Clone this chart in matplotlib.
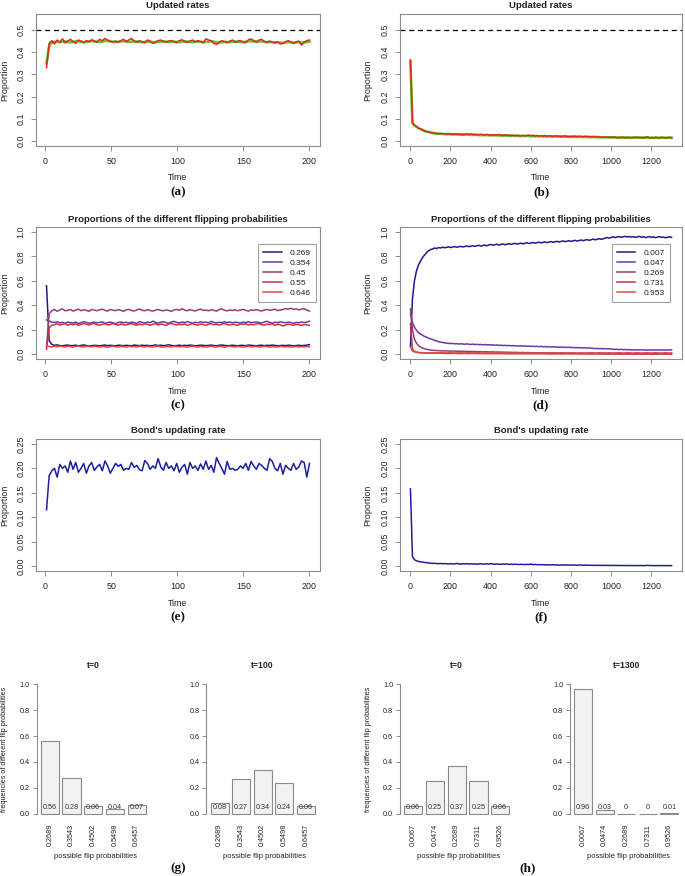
import numpy as np
import matplotlib
matplotlib.use("Agg")
import matplotlib.pyplot as plt
from matplotlib.lines import Line2D

plt.rcParams['font.family'] = ['Liberation Sans', 'DejaVu Sans']

# ---------------- data ----------------
# (a) updated rates, 200 steps (sampled every ~2 steps), thousandths
rate_a_red = [330, 440, 452, 438, 455, 445, 460, 442, 450, 458,
              447, 440, 455, 450, 443, 452, 448, 456, 450, 445,
              458, 452, 462, 455, 448, 446, 450, 445, 452, 458,
              448, 455, 462, 450, 445, 452, 447, 442, 455, 450,
              440, 447, 452, 455, 448, 446, 450, 453, 447, 443,
              452, 456, 449, 444, 450, 455, 446, 452, 448, 443,
              460, 455, 452, 440, 435, 446, 452, 447, 443, 450,
              455, 445, 449, 453, 446, 443, 456, 460, 452, 447,
              455, 458, 448, 444, 450, 446, 442, 447, 437, 440,
              447, 452, 445, 440, 447, 450, 432, 445, 452, 455]
rate_a_green = [350, 430, 443, 446, 448, 445, 447, 449, 446, 444,
                447, 449, 450, 447, 445, 446, 448, 450, 449, 447,
                446, 448, 450, 451, 449, 447, 446, 447, 449, 450,
                448, 446, 447, 449, 448, 446, 445, 446, 448, 447,
                445, 444, 446, 448, 449, 447, 446, 447, 448, 446,
                445, 447, 449, 448, 446, 445, 447, 448, 447, 445,
                446, 448, 449, 447, 444, 443, 445, 447, 446, 445,
                447, 448, 447, 446, 445, 447, 449, 450, 448, 447,
                448, 449, 447, 445, 446, 445, 444, 445, 443, 442,
                444, 446, 445, 443, 444, 446, 443, 444, 446, 447]

# (b) updated rates, 1300 steps (sampled every ~10 steps), thousandths
rate_b_red = [365, 85, 72, 66, 58, 55, 50, 46, 43, 41,
              39, 37, 36, 34, 33, 35, 32, 33, 31, 34,
              32, 30, 33, 31, 30, 32, 29, 31, 33, 30,
              32, 31, 29, 30, 28, 31, 29, 27, 30, 28,
              27, 29, 26, 28, 30, 27, 25, 28, 26, 27,
              25, 27, 24, 26, 25, 23, 26, 24, 25, 27,
              24, 26, 23, 25, 22, 24, 23, 25, 22, 24,
              23, 21, 24, 22, 23, 21, 22, 24, 21, 20,
              22, 21, 23, 20, 22, 21, 19, 22, 20, 21,
              19, 21, 20, 18, 19, 17, 19, 18, 17, 18,
              16, 18, 17, 15, 17, 16, 18, 15, 17, 16,
              15, 17, 16, 18, 15, 16, 14, 17, 19, 15,
              16, 15, 17, 16, 15, 17, 16, 15, 16, 17,
              16]
rate_b_green = [360, 80, 70, 64, 58, 54, 50, 46, 43, 41,
                39, 37, 35, 34, 33, 33, 32, 32, 31, 31,
                31, 30, 30, 30, 30, 29, 29, 29, 29, 29,
                28, 28, 28, 28, 27, 27, 27, 27, 27, 26,
                26, 26, 26, 26, 25, 25, 25, 25, 25, 24,
                24, 24, 24, 24, 23, 23, 23, 23, 23, 23,
                22, 22, 22, 22, 22, 22, 21, 21, 21, 21,
                21, 21, 21, 20, 20, 20, 20, 20, 20, 20,
                19, 19, 19, 19, 19, 19, 19, 19, 18, 18,
                18, 18, 18, 18, 18, 17, 17, 17, 17, 17,
                17, 17, 17, 16, 16, 16, 16, 16, 16, 16,
                16, 16, 16, 16, 16, 16, 16, 16, 16, 15,
                15, 15, 15, 15, 15, 15, 15, 15, 15, 15,
                15]

# (c) proportions of flipping probabilities, 200 steps, thousandths
c_labels = ['0.269', '0.354', '0.45', '0.55', '0.646']
c_p1 = [560, 110, 80, 72, 75, 70, 68, 72, 74, 69,
        70, 73, 68, 71, 75, 70, 66, 69, 72, 70,
        68, 71, 74, 69, 72, 70, 67, 73, 71, 69,
        72, 70, 68, 74, 71, 69, 73, 70, 72, 68,
        71, 75, 70, 73, 69, 72, 76, 71, 68, 70,
        73, 69, 72, 70, 74, 71, 68, 70, 73, 72,
        69, 71, 74, 70, 68, 72, 75, 71, 69, 70,
        73, 70, 68, 72, 71, 69, 74, 72, 70, 68,
        71, 73, 69, 72, 70, 74, 71, 68, 70, 72,
        69, 73, 71, 68, 70, 72, 69, 71, 73, 78]
c_p2 = [280, 270, 262, 258, 265, 255, 260, 252, 262, 258,
        255, 262, 250, 258, 265, 260, 253, 257, 262, 255,
        260, 264, 252, 258, 262, 256, 250, 259, 263, 257,
        260, 254, 262, 258, 251, 266, 259, 255, 262, 257,
        270, 260, 254, 261, 265, 258, 252, 263, 268, 259,
        255, 262, 258, 266, 260, 253, 261, 257, 264, 259,
        262, 256, 268, 260, 254, 261, 257, 265, 258, 263,
        256, 261, 259, 254, 262, 258, 265, 257, 260, 263,
        258, 255, 262, 268, 259, 253, 261, 257, 264, 260,
        255, 262, 258, 252, 260, 256, 263, 258, 261, 270]
c_p3 = [60, 330, 355, 365, 350, 362, 370, 355, 358, 365,
        352, 360, 368, 355, 362, 358, 350, 365, 360, 355,
        362, 368, 358, 352, 365, 360, 356, 364, 358, 350,
        362, 366, 357, 353, 361, 369, 358, 355, 363, 357,
        352, 360, 365, 358, 354, 362, 357, 350, 361, 366,
        358, 372, 360, 355, 363, 358, 353, 362, 368, 357,
        360, 355, 362, 358, 351, 365, 370, 359, 354, 361,
        357, 363, 355, 360, 366, 358, 352, 362, 358, 364,
        357, 353, 360, 366, 358, 362, 368, 356, 361, 365,
        372, 368, 375, 366, 370, 362, 368, 372, 360, 352]
c_p4 = [40, 215, 235, 240, 248, 238, 244, 250, 236, 245,
        240, 248, 235, 242, 250, 244, 238, 246, 252, 240,
        236, 245, 248, 239, 243, 250, 244, 236, 247, 241,
        238, 246, 250, 242, 237, 245, 240, 248, 243, 236,
        244, 250, 238, 246, 241, 235, 247, 252, 243, 239,
        245, 240, 248, 236, 244, 250, 241, 238, 246, 242,
        236, 245, 249, 240, 244, 237, 246, 251, 242, 238,
        245, 240, 236, 247, 243, 249, 238, 244, 240, 246,
        250, 241, 237, 245, 242, 248, 236, 244, 240, 230,
        238, 245, 241, 236, 244, 240, 236, 242, 238, 235]
c_p5 = [70, 62, 58, 65, 60, 66, 62, 58, 64, 61,
        57, 63, 66, 60, 58, 64, 62, 59, 65, 61,
        58, 63, 60, 56, 62, 65, 60, 58, 63, 61,
        57, 64, 60, 62, 58, 65, 61, 59, 63, 60,
        58, 62, 65, 60, 57, 63, 61, 58, 64, 62,
        59, 63, 60, 57, 62, 65, 61, 58, 63, 60,
        57, 62, 64, 60, 58, 63, 61, 56, 62, 65,
        60, 58, 63, 61, 57, 62, 64, 59, 61, 63,
        58, 60, 64, 61, 57, 62, 60, 58, 63, 61,
        59, 62, 57, 60, 63, 58, 61, 59, 62, 60]

# (d) proportions of flipping probabilities, 1300 steps, thousandths
d_labels = ['0.007', '0.047', '0.269', '0.731', '0.953']
d_p1 = [60, 450, 600, 680, 730, 760, 790, 810, 830, 845,
        855, 860, 868, 864, 872, 868, 875, 870, 873, 878,
        872, 876, 880, 874, 878, 882, 877, 880, 885, 879,
        883, 887, 881, 886, 890, 884, 888, 892, 886, 893,
        897, 891, 895, 899, 893, 897, 901, 895, 899, 903,
        898, 902, 906, 900, 904, 908, 902, 907, 911, 905,
        909, 913, 907, 912, 916, 910, 914, 918, 912, 917,
        921, 915, 919, 923, 917, 922, 926, 920, 924, 928,
        922, 927, 931, 925, 929, 934, 928, 933, 937, 931,
        936, 941, 935, 940, 945, 939, 944, 950, 954, 948,
        955, 960, 954, 958, 962, 956, 960, 964, 958, 962,
        957, 961, 955, 959, 963, 956, 960, 954, 958, 962,
        955, 959, 953, 957, 961, 955, 958, 952, 956, 960,
        955]
d_p2 = [330, 260, 220, 195, 175, 165, 155, 145, 138, 130,
        125, 120, 112, 108, 102, 98, 95, 92, 90, 88,
        86, 88, 84, 86, 82, 85, 83, 80, 84, 81,
        79, 82, 78, 80, 77, 79, 76, 78, 75, 77,
        74, 76, 72, 75, 71, 73, 70, 72, 69, 71,
        68, 70, 67, 69, 66, 68, 65, 67, 64, 66,
        63, 65, 62, 64, 61, 63, 60, 62, 59, 61,
        58, 60, 57, 59, 56, 58, 55, 57, 54, 56,
        53, 55, 52, 54, 51, 53, 50, 52, 49, 51,
        48, 47, 45, 47, 44, 46, 43, 45, 42, 44,
        41, 40, 38, 40, 37, 39, 36, 38, 35, 37,
        34, 36, 33, 35, 34, 36, 33, 35, 32, 34,
        33, 35, 32, 34, 33, 35, 32, 34, 33, 35,
        34]
d_p3 = [370, 200, 120, 90, 70, 58, 50, 44, 40, 36,
        33, 31, 30, 29, 28, 27, 27, 26, 26, 25,
        25, 25, 24, 24, 23, 23, 23, 22, 22, 22,
        21, 21, 21, 20, 20, 20, 19, 19, 19, 18,
        18, 18, 17, 17, 17, 16, 16, 16, 15, 15,
        15, 14, 14, 14, 13, 13, 13, 12, 12, 12,
        11, 11, 11, 10, 10, 10, 10, 9, 9, 9,
        9, 8, 8, 8, 8, 7, 7, 7, 7, 7,
        6, 6, 6, 6, 6, 6, 5, 5, 5, 5,
        5, 5, 5, 5, 4, 4, 4, 4, 4, 4,
        4, 4, 4, 4, 3, 3, 3, 3, 3, 3,
        3, 3, 3, 3, 3, 3, 3, 3, 3, 3,
        3, 3, 3, 3, 3, 3, 3, 3, 3, 3,
        3]
d_p4 = [250, 40, 22, 16, 13, 11, 10, 9, 9, 8,
        8, 8, 7, 7, 7, 7, 7, 6, 6, 6,
        6, 6, 6, 6, 5, 5, 5, 5, 5, 5,
        5, 5, 5, 5, 5, 4, 4, 4, 4, 4,
        4, 4, 4, 4, 4, 4, 4, 4, 3, 3,
        3, 3, 3, 3, 3, 3, 3, 3, 3, 3,
        3, 3, 3, 3, 3, 3, 3, 3, 2, 2,
        2, 2, 2, 2, 2, 2, 2, 2, 2, 2,
        2, 2, 2, 2, 2, 2, 2, 2, 2, 2,
        2, 2, 2, 2, 2, 2, 1, 1, 1, 1,
        1, 1, 1, 1, 1, 1, 1, 1, 1, 1,
        1, 1, 1, 1, 1, 1, 1, 1, 1, 1,
        1, 1, 1, 1, 1, 1, 1, 1, 1, 1,
        1]
d_p5 = [60, 25, 18, 15, 13, 12, 12, 11, 11, 11,
        10, 11, 10, 9, 10, 11, 10, 9, 10, 10,
        11, 10, 9, 10, 11, 10, 10, 9, 10, 11,
        10, 9, 10, 10, 11, 10, 9, 10, 11, 10,
        10, 9, 10, 11, 10, 9, 10, 10, 11, 10,
        9, 10, 11, 10, 10, 9, 10, 11, 10, 9,
        10, 10, 11, 10, 9, 10, 11, 10, 10, 9,
        10, 11, 10, 9, 10, 10, 11, 10, 9, 10,
        11, 10, 10, 9, 10, 11, 10, 9, 10, 10,
        11, 10, 9, 10, 11, 10, 10, 9, 10, 11,
        10, 9, 10, 10, 11, 10, 9, 10, 11, 10,
        10, 9, 10, 11, 10, 9, 10, 10, 11, 10,
        9, 10, 11, 10, 10, 9, 10, 11, 10, 9,
        10]

# (e) bond's updating rate, 200 steps, thousandths
bond_e = [115, 185, 195, 200, 182, 208, 200, 205, 192, 215,
          198, 212, 192, 200, 210, 190, 205, 212, 196, 203,
          208, 195, 215, 205, 190, 200, 210, 204, 208, 196,
          200, 198, 212, 202, 206, 197, 195, 216, 210, 198,
          205, 200, 220, 203, 196, 212, 200, 205, 195, 210,
          192, 202, 208, 188, 212, 200, 205, 196, 209, 198,
          215, 198, 206, 192, 222, 210, 200, 188, 214, 198,
          200, 196, 198, 205, 200, 210, 196, 214, 205, 198,
          210, 206, 200, 196, 220, 214, 200, 195, 210, 188,
          206, 200, 196, 210, 198, 203, 215, 212, 182, 210]

# (f) bond's updating rate, 1300 steps, ten-thousandths
bond_f = [1580, 200, 130, 110, 95, 90, 80, 75, 70, 65,
          60, 55, 58, 52, 50, 55, 48, 52, 47, 45,
          50, 44, 48, 55, 46, 42, 48, 45, 50, 43,
          47, 42, 45, 40, 44, 48, 41, 43, 46, 40,
          52, 42, 38, 44, 40, 36, 42, 38, 45, 35,
          38, 34, 40, 36, 32, 38, 34, 30, 36, 32,
          42, 30, 34, 28, 32, 27, 30, 25, 28, 26,
          24, 28, 22, 26, 20, 24, 22, 20, 25, 21,
          23, 19, 22, 18, 24, 20, 17, 21, 19, 16,
          18, 15, 19, 14, 17, 13, 16, 15, 12, 14,
          13, 15, 12, 14, 11, 13, 12, 10, 13, 11,
          12, 10, 11, 13, 10, 12, 9, 11, 15, 10,
          12, 9, 11, 10, 12, 9, 11, 10, 12, 9,
          10]

# (g), (h) bar charts
g_cats = ['0.2689', '0.3543', '0.4502', '0.5498', '0.6457']
g_t0 = [0.56, 0.28, 0.06, 0.04, 0.07]
g_t100 = [0.08, 0.27, 0.34, 0.24, 0.06]
h_cats = ['0.0067', '0.0474', '0.2689', '0.7311', '0.9526']
h_t0 = [0.06, 0.25, 0.37, 0.25, 0.06]
h_t1300 = [0.96, 0.03, 0.0, 0.0, 0.01]

# ---------------- layout helpers ----------------
W, H = 685, 876
fig = plt.figure(figsize=(W / 100, H / 100), dpi=100)


def rect(l, r, t, b):
    return [l / W, 1 - b / H, (r - l) / W, (b - t) / H]


def ftext(x, y, s, **kw):
    fig.text(x / W, 1 - y / H, s, **kw)


BOX = '#8c8c8c'
TXT = '#222222'
TICK_FS = 6.4
LAB_FS = 6.4
TITLE_FS = 6.8
LET_FS = 9.5

RED = '#e8231d'
GREEN = '#5ccc2e'
PCOLS = ['#1c1c8c', '#6a3aa0', '#953d78', '#cc3048', '#e04a4a']
BLUE = '#1e1e9e'


def style_line_axes(ax, nmax, ylo, yhi, yticks, xticks, yfmt):
    ext = 0.04 * (nmax - 1)
    ax.set_xlim(1 - ext, nmax + ext)
    yext = 0.04 * (yhi - ylo)
    ax.set_ylim(ylo - yext, yhi + yext)
    for s in ax.spines.values():
        s.set_color(BOX)
        s.set_linewidth(0.8)
    ax.set_xticks(xticks)
    ax.set_xticklabels([str(v) for v in xticks])
    ax.set_yticks(yticks)
    ax.set_yticklabels([yfmt.format(v) for v in yticks], rotation=90, va='center')
    ax.tick_params(axis='both', colors=BOX, labelcolor=TXT, labelsize=TICK_FS,
                   length=3.5, width=0.7, direction='out')
    ax.tick_params(axis='x', pad=4.5)
    ax.tick_params(axis='y', pad=4)


def line_panel(l, r, t, b, title, letter, ylab_x, nmax, ylo, yhi, yticks, xticks, yfmt):
    ax = fig.add_axes(rect(l, r, t, b))
    style_line_axes(ax, nmax, ylo, yhi, yticks, xticks, yfmt)
    cx = (l + r) / 2
    ftext(cx, t - 8, title, ha='center', va='center', fontsize=TITLE_FS, fontweight='bold', color=TXT)
    ftext(cx, b + 32, 'Time', ha='center', va='center', fontsize=LAB_FS, color=TXT)
    ftext(cx, b + 46, letter, ha='center', va='center', fontsize=LET_FS, fontweight='bold',
          family=['Liberation Serif', 'DejaVu Serif'], color='#111111')
    ftext(ylab_x, (t + b) / 2, 'Proportion', ha='center', va='center', rotation=90,
          fontsize=LAB_FS, color=TXT)
    return ax


def xs(n, y):
    return np.linspace(1, n, len(y))


LW = 1.1
t200 = [0, 50, 100, 150, 200]
t1300 = [0, 200, 400, 600, 800, 1000, 1200]

# (a)
ax = line_panel(36, 320, 14, 146, 'Updated rates', '(a)', 5, 200, 0, 0.55,
                [0, 0.1, 0.2, 0.3, 0.4, 0.5], t200, '{:.1f}')
ax.axhline(0.5, color='black', lw=0.9, ls=(0, (4, 3)))
ax.plot(xs(200, rate_a_green), np.array(rate_a_green) / 1000, color=GREEN, lw=1.9)
ax.plot(xs(200, rate_a_red), np.array(rate_a_red) / 1000, color=RED, lw=LW)

# (b)
ax = line_panel(400, 682, 14, 146, 'Updated rates', '(b)', 368, 1300, 0, 0.55,
                [0, 0.1, 0.2, 0.3, 0.4, 0.5], t1300, '{:.1f}')
ax.axhline(0.5, color='black', lw=0.9, ls=(0, (4, 3)))
ax.plot(xs(1300, rate_b_green), np.array(rate_b_green) / 1000, color=GREEN, lw=1.9)
ax.plot(xs(1300, rate_b_red), np.array(rate_b_red) / 1000, color=RED, lw=LW)

# (c)
ax = line_panel(36, 320, 227, 359, 'Proportions of the different flipping probabilities', '(c)', 5,
                200, 0, 1.0, [0, 0.2, 0.4, 0.6, 0.8, 1.0], t200, '{:.1f}')
for ser, col in zip([c_p1, c_p2, c_p3, c_p4, c_p5], PCOLS):
    ax.plot(xs(200, ser), np.array(ser) / 1000, color=col, lw=LW)
handles = [Line2D([], [], color=c, lw=1.1) for c in PCOLS]
leg = ax.legend(handles, c_labels, loc='upper right', bbox_to_anchor=(0.986, 0.871),
                fontsize=6.0, frameon=True, fancybox=False, handlelength=2.2,
                labelspacing=0.25, borderpad=0.6, handletextpad=1.0, borderaxespad=0)
leg.get_frame().set_edgecolor(BOX)
leg.get_frame().set_linewidth(0.8)
for txt in leg.get_texts():
    txt.set_color(TXT)

# (d)
ax = line_panel(400, 682, 227, 359, 'Proportions of the different flipping probabilities', '(d)', 368,
                1300, 0, 1.0, [0, 0.2, 0.4, 0.6, 0.8, 1.0], t1300, '{:.1f}')
for ser, col in zip([d_p1, d_p2, d_p3, d_p4, d_p5], PCOLS):
    ax.plot(xs(1300, ser), np.array(ser) / 1000, color=col, lw=LW)
leg = ax.legend(handles, d_labels, loc='upper right', bbox_to_anchor=(0.957, 0.871),
                fontsize=6.0, frameon=True, fancybox=False, handlelength=2.2,
                labelspacing=0.25, borderpad=0.6, handletextpad=1.0, borderaxespad=0)
leg.get_frame().set_edgecolor(BOX)
leg.get_frame().set_linewidth(0.8)
for txt in leg.get_texts():
    txt.set_color(TXT)

# (e)
ax = line_panel(36, 320, 439, 571, "Bond's updating rate", '(e)', 5, 200, 0, 0.25,
                [0, 0.05, 0.10, 0.15, 0.20, 0.25], t200, '{:.2f}')
ax.plot(xs(200, bond_e), np.array(bond_e) / 1000, color=BLUE, lw=LW)

# (f)
ax = line_panel(400, 682, 439, 571, "Bond's updating rate", '(f)', 368, 1300, 0, 0.25,
                [0, 0.05, 0.10, 0.15, 0.20, 0.25], t1300, '{:.2f}')
ax.plot(xs(1300, bond_f), np.array(bond_f) / 10000, color=BLUE, lw=LW)


# ---------------- bar charts ----------------
def fmt_val(v):
    if v == 0:
        return '0'
    return ('%.2f' % v)


BAR_FS = 5.2


def bar_panel(l, r, title, cats, vals, ylab_x=None):
    t, b = 679, 819
    ax = fig.add_axes(rect(l, r, t, b))
    n = len(vals)
    pos = [0.7 + 1.2 * i for i in range(n)]
    ax.bar(pos, vals, width=1.0, color='#f2f2f2', edgecolor='#8a8a8a', linewidth=0.8)
    ax.set_xlim(0.2 - 0.232, 6.0 + 0.232)
    ax.set_ylim(-0.04, 1.04)
    for k in ['top', 'right', 'bottom']:
        ax.spines[k].set_visible(False)
    ax.spines['left'].set_bounds(0, 1)
    ax.spines['left'].set_color(BOX)
    ax.spines['left'].set_linewidth(0.8)
    ax.set_yticks([0, 0.2, 0.4, 0.6, 0.8, 1.0])
    ax.set_yticklabels(['0.0', '0.2', '0.4', '0.6', '0.8', '1.0'])
    ax.set_xticks(pos)
    ax.set_xticklabels(cats, rotation=90, va='top')
    ax.tick_params(axis='y', colors=BOX, labelcolor=TXT, labelsize=BAR_FS, length=3, width=0.7, pad=2)
    ax.tick_params(axis='x', length=0, labelcolor=TXT, labelsize=BAR_FS, pad=3.5)
    ax.patch.set_alpha(0)
    for p, v in zip(pos, vals):
        ax.text(p, 0.05, fmt_val(v), ha='center', va='center', fontsize=BAR_FS, color='#333333')
    cx = (l + r) / 2
    ftext(cx, 666, title, ha='center', va='center', fontsize=6.2, fontweight='bold', color=TXT)
    ftext(cx + 2, 856.5, 'possible flip probabilities', ha='center', va='center', fontsize=5.4, color=TXT)
    if ylab_x is not None:
        ftext(ylab_x, 749, 'frequencies of different flip probabilities', ha='center', va='center',
              rotation=90, fontsize=5.2, color=TXT)
    return ax


bar_panel(36.5, 150, 't=0', g_cats, g_t0, ylab_x=5)
bar_panel(206.5, 319, 't=100', g_cats, g_t100)
bar_panel(400, 513.5, 't=0', h_cats, h_t0, ylab_x=369)
bar_panel(570, 682.5, 't=1300', h_cats, h_t1300)

ftext(178, 868, '(g)', ha='center', va='center', fontsize=LET_FS, fontweight='bold',
      family=['Liberation Serif', 'DejaVu Serif'], color='#111111')
ftext(528, 868, '(h)', ha='center', va='center', fontsize=LET_FS, fontweight='bold',
      family=['Liberation Serif', 'DejaVu Serif'], color='#111111')

fig.savefig('out.png', dpi=100)
